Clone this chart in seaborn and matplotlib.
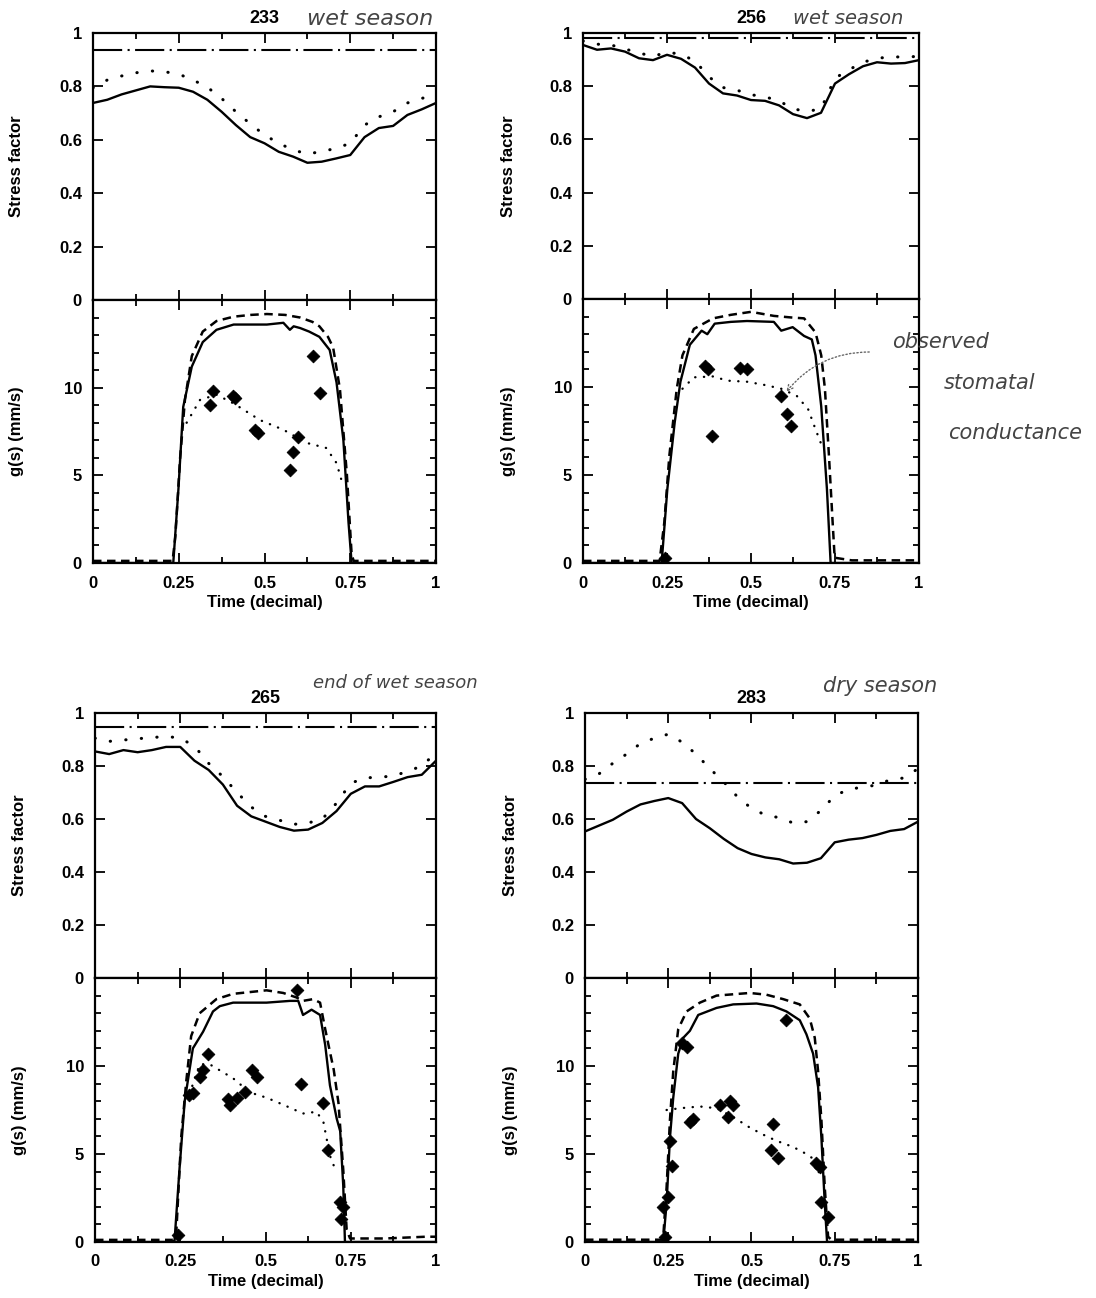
import matplotlib
matplotlib.use("Agg")
import matplotlib.pyplot as plt
import seaborn as sns
import numpy as np
import pandas as pd
from matplotlib.ticker import FixedLocator, FixedFormatter, MultipleLocator

sns.set_style("ticks")
plt.rcParams['font.family'] = ['Liberation Sans', 'DejaVu Sans']
plt.rcParams['font.weight'] = 'bold'
plt.rcParams['text.color'] = 'black'
plt.rcParams['axes.labelcolor'] = 'black'
plt.rcParams['xtick.color'] = 'black'
plt.rcParams['ytick.color'] = 'black'

# ---------------- data ----------------
hour_t = [h / 24 for h in range(25)]

# Day 233
stress_const_233 = 0.935
stress_solid_233 = [0.738, 0.75, 0.77, 0.785, 0.80, 0.797, 0.795, 0.78, 0.75, 0.705, 0.655, 0.61, 0.587,
                    0.555, 0.537, 0.514, 0.518, 0.53, 0.543, 0.61, 0.644, 0.652, 0.693, 0.714, 0.738]
stress_dotted_233 = [0.795, 0.824, 0.839, 0.851, 0.858, 0.855, 0.846, 0.824, 0.797, 0.755, 0.705, 0.66, 0.618,
                     0.587, 0.562, 0.547, 0.556, 0.568, 0.587, 0.655, 0.686, 0.705, 0.738, 0.755, 0.77]
gdash_t_233 = [0, 0.1, 0.2, 0.232, 0.24, 0.254, 0.268, 0.288, 0.32, 0.36, 0.41, 0.46, 0.507, 0.56, 0.604,
               0.64, 0.66, 0.685, 0.70, 0.72, 0.74, 0.754, 0.76, 0.85, 1.0]
gdash_233 = [0.12, 0.12, 0.12, 0.12, 1.5, 6.0, 9.3, 11.8, 13.2, 13.8, 14.05, 14.15, 14.2, 14.15, 14.0,
             13.75, 13.5, 12.9, 12.3, 9.9, 5.1, 0.5, 0.12, 0.12, 0.12]
gsolid_t_233 = [0, 0.234, 0.249, 0.263, 0.288, 0.32, 0.36, 0.41, 0.46, 0.507, 0.555, 0.574, 0.585, 0.604,
                0.63, 0.66, 0.69, 0.71, 0.73, 0.745, 0.754, 1.0]
gsolid_233 = [0, 0, 4.2, 8.9, 11.2, 12.6, 13.3, 13.6, 13.6, 13.6, 13.7, 13.3, 13.5, 13.4,
              13.2, 12.9, 12.15, 10.3, 7.0, 2.3, 0, 0]
gdot_t_233 = [0.273, 0.312, 0.36, 0.41, 0.487, 0.555, 0.623, 0.68, 0.71, 0.73]
gdot_233 = [8.0, 9.3, 9.6, 9.1, 8.15, 7.6, 6.85, 6.56, 5.7, 4.35]
obs_t_233 = [0.341, 0.351, 0.409, 0.415, 0.472, 0.482, 0.574, 0.584, 0.598, 0.642, 0.662]
obs_233 = [9.0, 9.8, 9.5, 9.4, 7.6, 7.4, 5.3, 6.35, 7.2, 11.8, 9.7]

# Day 256
stress_const_256 = 0.98
stress_solid_256 = [0.955, 0.937, 0.942, 0.93, 0.905, 0.898, 0.918, 0.903, 0.87, 0.81, 0.773, 0.765, 0.748,
                    0.745, 0.728, 0.695, 0.68, 0.70, 0.81, 0.845, 0.875, 0.89, 0.885, 0.887, 0.898]
stress_dotted_256 = [0.97, 0.958, 0.955, 0.94, 0.925, 0.912, 0.928, 0.92, 0.895, 0.835, 0.795, 0.785, 0.768,
                     0.76, 0.745, 0.715, 0.705, 0.715, 0.83, 0.862, 0.89, 0.905, 0.91, 0.91, 0.912]
gdash_t_256 = [0, 0.1, 0.2, 0.228, 0.242, 0.257, 0.279, 0.296, 0.33, 0.387, 0.44, 0.5, 0.568, 0.62, 0.658,
               0.692, 0.709, 0.72, 0.732, 0.743, 0.749, 0.8, 0.9, 1.0]
gdash_256 = [0.12, 0.12, 0.12, 0.12, 2.3, 6.1, 9.9, 11.8, 13.3, 13.9, 14.1, 14.27, 14.04, 13.95, 13.9,
             13.1, 11.8, 9.9, 6.1, 2.3, 0.3, 0.15, 0.15, 0.15]
gsolid_t_256 = [0, 0.234, 0.251, 0.273, 0.29, 0.318, 0.353, 0.37, 0.392, 0.44, 0.488, 0.568, 0.59, 0.624,
                0.658, 0.681, 0.692, 0.709, 0.726, 0.737, 1.0]
gsolid_256 = [0, 0, 4.2, 8.0, 10.3, 12.4, 13.2, 13.0, 13.6, 13.7, 13.75, 13.7, 13.2, 13.4,
              12.9, 12.7, 11.8, 8.9, 4.2, 0, 0]
gdot_t_256 = [0.296, 0.33, 0.387, 0.43, 0.488, 0.545, 0.59, 0.636, 0.67, 0.692, 0.715]
gdot_256 = [9.9, 10.55, 10.6, 10.36, 10.3, 10.1, 9.9, 9.5, 8.74, 7.6, 6.46]
obs_t_256 = [0.243, 0.364, 0.372, 0.385, 0.466, 0.488, 0.59, 0.607, 0.619]
obs_256 = [0.3, 11.2, 11.0, 7.2, 11.1, 11.0, 9.5, 8.45, 7.8]

# Day 265
stress_const_265 = 0.946
stress_solid_265 = [0.855, 0.845, 0.86, 0.852, 0.86, 0.872, 0.872, 0.82, 0.785, 0.73, 0.65, 0.61, 0.59,
                    0.57, 0.556, 0.56, 0.585, 0.63, 0.695, 0.723, 0.723, 0.74, 0.758, 0.767, 0.82]
stress_dotted_265 = [0.905, 0.893, 0.898, 0.903, 0.907, 0.912, 0.905, 0.875, 0.81, 0.76, 0.70, 0.645, 0.61,
                     0.595, 0.58, 0.585, 0.60, 0.66, 0.735, 0.755, 0.758, 0.762, 0.78, 0.80, 0.85]
gdash_t_265 = [0, 0.1, 0.2, 0.23, 0.238, 0.253, 0.268, 0.282, 0.307, 0.356, 0.405, 0.503, 0.552, 0.59, 0.61,
               0.64, 0.66, 0.675, 0.689, 0.70, 0.714, 0.728, 0.738, 0.748, 0.85, 0.97, 1.0]
gdash_265 = [0.12, 0.12, 0.12, 0.12, 0.4, 6.0, 9.2, 11.7, 13.0, 13.8, 14.1, 14.3, 14.15, 13.9, 13.7,
             13.8, 13.6, 12.1, 10.8, 9.8, 7.9, 4.1, 0.7, 0.2, 0.2, 0.3, 0.3]
gsolid_t_265 = [0, 0.233, 0.248, 0.263, 0.287, 0.317, 0.346, 0.366, 0.405, 0.503, 0.572, 0.596, 0.61, 0.635,
                0.66, 0.675, 0.689, 0.709, 0.719, 0.728, 0.733, 1.0]
gsolid_265 = [0, 0, 4.2, 8.0, 11.0, 11.95, 13.1, 13.4, 13.6, 13.6, 13.7, 13.7, 12.9, 13.2,
              12.9, 11.2, 8.9, 7.0, 6.3, 3.2, 0, 0]
gdot_t_265 = [0.277, 0.307, 0.336, 0.405, 0.454, 0.503, 0.552, 0.61, 0.65, 0.67, 0.689, 0.70]
gdot_265 = [8.4, 10.1, 10.1, 9.3, 8.5, 8.2, 7.8, 7.3, 7.4, 6.8, 4.9, 4.35]
obs_t_265 = [0.243, 0.277, 0.287, 0.307, 0.317, 0.331, 0.39, 0.395, 0.415, 0.44, 0.46, 0.474, 0.591, 0.605,
             0.67, 0.684, 0.719, 0.722, 0.726]
obs_265 = [0.4, 8.35, 8.45, 9.4, 9.8, 10.7, 8.1, 7.8, 8.2, 8.5, 9.8, 9.4, 14.3, 9.0,
           7.9, 5.2, 2.3, 1.3, 2.0]

# Day 283
stress_const_283 = 0.736
stress_solid_283 = [0.553, 0.575, 0.597, 0.628, 0.655, 0.668, 0.679, 0.66, 0.60, 0.565, 0.525, 0.49, 0.468,
                    0.455, 0.448, 0.432, 0.435, 0.452, 0.512, 0.522, 0.528, 0.54, 0.555, 0.562, 0.59]
stress_dotted_283 = [0.75, 0.77, 0.81, 0.845, 0.885, 0.905, 0.92, 0.89, 0.845, 0.79, 0.74, 0.683, 0.64,
                     0.615, 0.605, 0.585, 0.59, 0.632, 0.688, 0.712, 0.72, 0.728, 0.748, 0.755, 0.79]
gdash_t_283 = [0, 0.1, 0.2, 0.23, 0.235, 0.245, 0.255, 0.265, 0.28, 0.305, 0.345, 0.395, 0.495, 0.545, 0.595,
               0.645, 0.675, 0.69, 0.70, 0.71, 0.72, 0.73, 0.74, 0.85, 1.0]
gdash_283 = [0.13, 0.13, 0.13, 0.13, 0.3, 3.1, 6.9, 9.7, 12.1, 13.1, 13.6, 14.0, 14.15, 14.05, 13.8,
             13.5, 12.7, 11.6, 9.7, 6.9, 3.1, 0.3, 0.13, 0.13, 0.13]
gsolid_t_283 = [0, 0.235, 0.245, 0.255, 0.265, 0.28, 0.295, 0.315, 0.34, 0.395, 0.445, 0.515, 0.565, 0.605,
                0.645, 0.665, 0.685, 0.70, 0.71, 0.72, 0.727, 1.0]
gsolid_283 = [0, 0, 2.2, 5.9, 8.2, 10.7, 11.6, 12.0, 12.9, 13.3, 13.5, 13.55, 13.4, 13.1,
              12.6, 11.8, 10.7, 8.8, 5.9, 2.2, 0, 0]
gdot_t_283 = [0.245, 0.285, 0.345, 0.395, 0.445, 0.495, 0.535, 0.575, 0.625, 0.665, 0.695, 0.705]
gdot_283 = [7.5, 7.6, 7.7, 7.6, 7.1, 6.5, 6.1, 5.75, 5.4, 5.0, 4.6, 3.7]
obs_t_283 = [0.235, 0.24, 0.25, 0.255, 0.26, 0.29, 0.305, 0.315, 0.325, 0.405, 0.43, 0.435, 0.445, 0.56,
             0.565, 0.58, 0.605, 0.695, 0.705, 0.71, 0.73]
obs_283 = [2.0, 0.3, 2.55, 5.75, 4.3, 11.3, 11.1, 6.8, 7.0, 7.8, 7.1, 8.0, 7.8, 5.2,
           6.7, 4.8, 12.6, 4.5, 4.25, 2.25, 1.4]

titles = ["233", "256", "265", "283"]
notes = ["wet season", "wet season", "end of wet season", "dry season"]
stress_ticks = [0, 0.2, 0.4, 0.6, 0.8, 1.0]
stress_ticklabels = ["0", "0.2", "0.4", "0.6", "0.8", "1"]
g_ticks = [0, 5, 10]
g_ticklabels = ["0", "5", "10"]
time_ticks = [0, 0.25, 0.5, 0.75, 1.0]
time_ticklabels = ["0", "0.25", "0.5", "0.75", "1"]

days = {
    "233": dict(c=stress_const_233, s=stress_solid_233, d=stress_dotted_233,
                gdt=gdash_t_233, gd=gdash_233, gst=gsolid_t_233, gs=gsolid_233,
                gpt=gdot_t_233, gp=gdot_233, ot=obs_t_233, o=obs_233),
    "256": dict(c=stress_const_256, s=stress_solid_256, d=stress_dotted_256,
                gdt=gdash_t_256, gd=gdash_256, gst=gsolid_t_256, gs=gsolid_256,
                gpt=gdot_t_256, gp=gdot_256, ot=obs_t_256, o=obs_256),
    "265": dict(c=stress_const_265, s=stress_solid_265, d=stress_dotted_265,
                gdt=gdash_t_265, gd=gdash_265, gst=gsolid_t_265, gs=gsolid_265,
                gpt=gdot_t_265, gp=gdot_265, ot=obs_t_265, o=obs_265),
    "283": dict(c=stress_const_283, s=stress_solid_283, d=stress_dotted_283,
                gdt=gdash_t_283, gd=gdash_283, gst=gsolid_t_283, gs=gsolid_283,
                gpt=gdot_t_283, gp=gdot_283, ot=obs_t_283, o=obs_283),
}

# ---------------- layout ----------------
W, H = 1096, 1298
fig = plt.figure(figsize=(W / 100, H / 100), dpi=100)


def rect(l, r, top, bottom):
    return [l / W, 1 - bottom / H, (r - l) / W, (bottom - top) / H]


layout = {
    "233": (93, 436, 33, 300, 563),
    "256": (583, 919, 33, 299, 563),
    "265": (95, 436, 713, 978, 1242),
    "283": (585, 918, 713, 978, 1242),
}
note_pos = {
    "233": (370, 19, 16),
    "256": (848, 18, 14),
    "265": (395, 683, 13),
    "283": (880, 686, 15),
}

TICKFS = 12
LABFS = 12


def style_axes(ax):
    for sp in ax.spines.values():
        sp.set_linewidth(1.6)
        sp.set_color("black")
    ax.tick_params(which="both", direction="in", top=True, right=True, width=1.3,
                   colors="black", labelsize=TICKFS)
    ax.tick_params(which="major", length=7)
    ax.tick_params(which="minor", length=4)
    ax.tick_params(axis="y", pad=8)
    ax.tick_params(axis="x", pad=9)
    ax.set_xlim(0, 1)
    ax.xaxis.set_major_locator(FixedLocator(time_ticks))
    ax.xaxis.set_minor_locator(MultipleLocator(0.125))


axes_g = {}
for name in titles:
    l, r, top, mid, bot = layout[name]
    D = days[name]
    ax1 = fig.add_axes(rect(l, r, top, mid))
    ax2 = fig.add_axes(rect(l, r, mid, bot))
    axes_g[name] = ax2

    # stress factor panel
    sns.lineplot(x=[0, 1], y=[D["c"], D["c"]], ax=ax1, color="black", lw=1.5,
                 linestyle=(0, (14, 2.6, 1.0, 2.6)), estimator=None, sort=False)
    sns.lineplot(x=hour_t, y=D["s"], ax=ax1, color="black", lw=1.7, estimator=None, sort=False)
    sns.lineplot(x=hour_t, y=D["d"], ax=ax1, color="black", lw=2.2,
                 linestyle=(0, (0.1, 5.0)), dash_capstyle="round", estimator=None, sort=False)
    ax1.set_ylim(0, 1)
    style_axes(ax1)
    ax1.yaxis.set_major_locator(FixedLocator(stress_ticks))
    ax1.yaxis.set_major_formatter(FixedFormatter(stress_ticklabels))
    ax1.tick_params(labelbottom=False)
    ax1.set_xlabel("")
    ax1.set_ylabel("Stress factor", fontsize=LABFS, fontweight="bold", color="black")
    ax1.yaxis.set_label_coords(-0.2, 0.5)
    ax1.set_title(name, fontsize=13, fontweight="bold", pad=7, color="black")

    # conductance panel
    sns.lineplot(x=D["gdt"], y=D["gd"], ax=ax2, color="black", lw=1.8,
                 linestyle=(0, (3.4, 2.2)), estimator=None, sort=False)
    sns.lineplot(x=D["gst"], y=D["gs"], ax=ax2, color="black", lw=1.7, estimator=None, sort=False)
    sns.lineplot(x=D["gpt"], y=D["gp"], ax=ax2, color="black", lw=1.7,
                 linestyle=(0, (0.1, 3.6)), dash_capstyle="round", estimator=None, sort=False)
    sns.scatterplot(x=D["ot"], y=D["o"], ax=ax2, color="black", marker="D", s=42,
                    edgecolor="black", linewidth=0.6, zorder=5)
    ax2.set_ylim(0, 15)
    style_axes(ax2)
    ax2.yaxis.set_major_locator(FixedLocator(g_ticks))
    ax2.yaxis.set_major_formatter(FixedFormatter(g_ticklabels))
    ax2.yaxis.set_minor_locator(MultipleLocator(1))
    ax2.xaxis.set_major_formatter(FixedFormatter(time_ticklabels))
    ax2.set_ylabel("g(s) (mm/s)", fontsize=LABFS, fontweight="bold", color="black")
    ax2.yaxis.set_label_coords(-0.2, 0.5)
    ax2.set_xlabel("Time (decimal)", fontsize=LABFS, fontweight="bold", labelpad=3, color="black")
    for lab in ax1.get_yticklabels() + ax2.get_yticklabels() + ax2.get_xticklabels():
        lab.set_fontweight("bold")
        lab.set_color("black")

    nx, ny, nfs = note_pos[name]
    fig.text(nx / W, 1 - ny / H, notes[titles.index(name)], ha="center", va="center",
             fontsize=nfs, fontstyle="italic", fontweight="normal", color="#444444",
             family=["DejaVu Sans"])

# handwritten annotation for observed stomatal conductance
hand = dict(fontsize=15, fontstyle="italic", fontweight="normal", color="#444444",
            family=["DejaVu Sans"], ha="center", va="center")
fig.text(940 / W, 1 - 342 / H, "observed", **hand)
fig.text(990 / W, 1 - 383 / H, "stomatal", **hand)
fig.text(1015 / W, 1 - 433 / H, "conductance", **hand)
axes_g["256"].annotate("", xy=(0.6, 9.6), xycoords="data",
                       xytext=(872 / W, 1 - 352 / H), textcoords="figure fraction",
                       arrowprops=dict(arrowstyle="->", color="#666666", lw=1.0, ls=":",
                                       connectionstyle="arc3,rad=0.25"),
                       annotation_clip=False)

fig.savefig("out.png", dpi=100)
